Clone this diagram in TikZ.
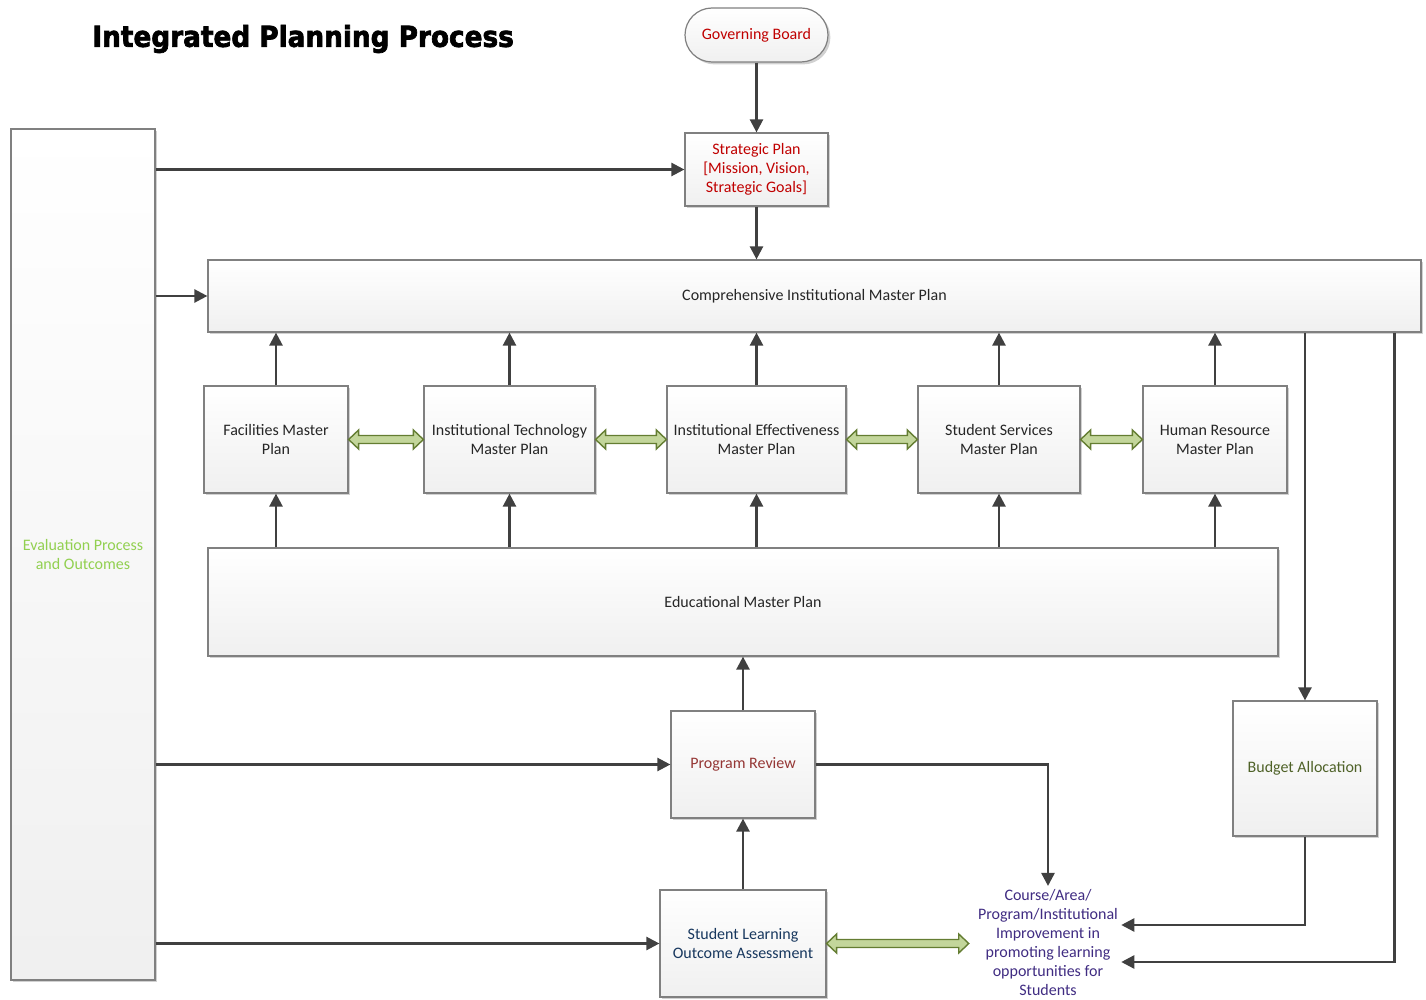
\documentclass[tikz,border=0pt]{standalone}
\usepackage{fontspec}
\setmainfont{Carlito}
\newfontfamily\titlefont[BoldFeatures={FakeBold=2.5}]{DejaVu Sans}
\usetikzlibrary{arrows.meta,calc,shadows}

\definecolor{linegray}{RGB}{64,64,64}
\definecolor{boxedge}{RGB}{128,128,128}
\definecolor{txtdark}{RGB}{38,38,38}
\definecolor{txtred}{RGB}{192,0,0}
\definecolor{txtmaroon}{RGB}{149,55,53}
\definecolor{txtnavy}{RGB}{23,55,94}
\definecolor{txtolive}{RGB}{79,98,40}
\definecolor{txtlime}{RGB}{146,208,80}
\definecolor{txtpurple}{RGB}{64,44,130}
\definecolor{arrowedge}{RGB}{100,125,50}
\definecolor{arrowfill}{RGB}{195,214,155}

\tikzset{
  x=0.5pt, y=-0.5pt,
  box/.style={draw=boxedge, line width=0.6pt, top color=white, bottom color=black!6,
    drop shadow={shadow xshift=1.2pt, shadow yshift=-1.2pt, opacity=0.18, fill=black},
    align=center, font=\fontsize{8}{9.5}\selectfont, text=txtdark, inner sep=1pt},
  arr/.style={draw=linegray, line width=1.2pt,
    -{Triangle[length=6.5pt,width=6.5pt]}},
  fatarrow/.style={draw=arrowedge, fill=arrowfill, line width=0.7pt, line join=miter,
    to path={let \p1=(\tikztostart), \p2=(\tikztotarget) in
      (\x1,\y1) -- (\x1+5pt,\y1+4.75pt) -- (\x1+5pt,\y1+2pt)
      -- (\x2-5pt,\y1+2pt) -- (\x2-5pt,\y1+4.75pt) -- (\x2,\y1)
      -- (\x2-5pt,\y1-4.75pt) -- (\x2-5pt,\y1-2pt)
      -- (\x1+5pt,\y1-2pt) -- (\x1+5pt,\y1-4.75pt) -- cycle}},
}

\begin{document}
\begin{tikzpicture}
\useasboundingbox (0,0) rectangle (1426,1000);

% title
\node[anchor=west, inner sep=0pt, font=\titlefont\bfseries\fontsize{14}{16}\selectfont]
  (title) at (92,39) {\scalebox{0.94}[1.03]{Integrated Planning Process}};

% top of the chain
\node[box, rounded corners=13.5pt, minimum width=71.5pt, minimum height=27pt, text=txtred]
  (gb) at (756.5,35) {Governing Board};
\node[box, minimum width=71.5pt, minimum height=36.5pt, text=txtred]
  (sp) at (756.5,169.5) {Strategic Plan\\{}[Mission, Vision,\\Strategic Goals]};

% evaluation column
\node[box, minimum width=72pt, minimum height=425.5pt, text=txtlime]
  (eval) at (83,554.5) {Evaluation Process\\and Outcomes};

% comprehensive plan
\node[box, minimum width=606.5pt, minimum height=36pt]
  (cimp) at (814.5,296) {Comprehensive Institutional Master Plan};

% master plans row
\node[box, minimum width=72pt, minimum height=53.5pt] (fac) at (276,439.5) {Facilities Master\\Plan};
\node[box, minimum width=85.5pt, minimum height=53.5pt] (itm) at (509.5,439.5) {Institutional Technology\\Master Plan};
\node[box, minimum width=89.5pt, minimum height=53.5pt] (iem) at (756.5,439.5) {Institutional Effectiveness\\Master Plan};
\node[box, minimum width=81pt, minimum height=53.5pt] (ssm) at (999,439.5) {Student Services\\Master Plan};
\node[box, minimum width=72pt, minimum height=53.5pt] (hrm) at (1215,439.5) {Human Resource\\Master Plan};

% educational plan
\node[box, minimum width=535pt, minimum height=54pt] (emp) at (743,602) {Educational Master Plan};

% review and assessment
\node[box, minimum width=72pt, minimum height=53.5pt, text=txtmaroon] (pr) at (743,764.5) {Program Review};
\node[box, minimum width=83pt, minimum height=53.5pt, text=txtnavy] (sloa) at (743,943.5) {Student Learning\\Outcome Assessment};
\node[box, minimum width=72pt, minimum height=67.5pt, text=txtolive] (bud) at (1305,768.5) {Budget Allocation};

% improvement outcome
\node[align=center, font=\fontsize{8}{9.5}\selectfont, text=txtpurple, inner sep=1.5pt]
  (course) at (1048,942.5) {Course/Area/\\Program/Institutional\\Improvement in\\promoting learning\\opportunities for\\Students};

% vertical chain
\draw[arr] (gb.south) -- (sp.north);
\draw[arr] (sp.south) -- (sp.south |- cimp.north);

% evaluation feeds
\draw[arr] (eval.east |- sp.west) -- (sp.west);
\draw[arr] (eval.east |- cimp.west) -- (cimp.west);
\draw[arr] (eval.east |- pr.west) -- (pr.west);
\draw[arr] (eval.east |- sloa.west) -- (sloa.west);

% master plans up to comprehensive plan, educational plan up to master plans
\foreach \m in {fac,itm,iem,ssm,hrm}{
  \draw[arr] (\m.north) -- (\m.north |- cimp.south);
  \draw[arr] (\m.south |- emp.north) -- (\m.south);
}

% two-way links between master plans
\draw[fatarrow] (fac.east) to (itm.west);
\draw[fatarrow] (itm.east) to (iem.west);
\draw[fatarrow] (iem.east) to (ssm.west);
\draw[fatarrow] (ssm.east) to (hrm.west);
\draw[fatarrow] (sloa.east) to ([xshift=-3pt]course.west |- sloa.east);

% review chain
\draw[arr] (sloa.north) -- (pr.south);
\draw[arr] (pr.north) -- (pr.north |- emp.south);
\draw[arr] (pr.east) -| (course.north);

% budget and improvement
\draw[arr] (bud.north |- cimp.south) -- (bud.north);
\draw[arr] (bud.south) |- ([yshift=8.75pt]course.east);
\draw[arr] ([xshift=-13.5pt]cimp.south east) |- ([yshift=-9.75pt]course.east);
\end{tikzpicture}
\end{document}
